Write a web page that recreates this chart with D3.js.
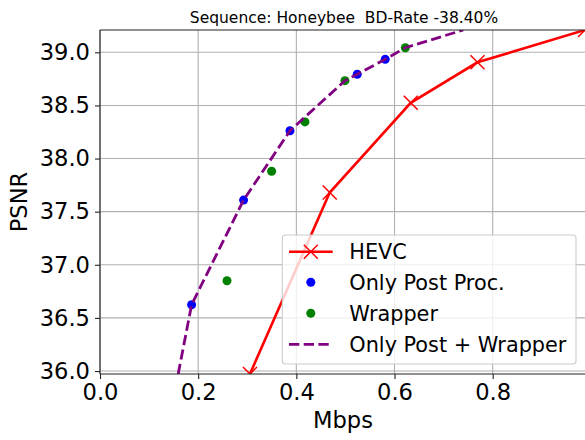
<!DOCTYPE html>
<html>
<head>
<meta charset="utf-8">
<script src="https://cdn.jsdelivr.net/npm/d3@7"></script>
<style>
  body { margin: 0; background: #fff; }
  text { font-family: "DejaVu Sans", sans-serif; fill: #000; }
</style>
</head>
<body>
<div id="chart"></div>
<script>
// values
var hevcRate = [0.3055, 0.468, 0.633, 0.769, 0.988];
var hevcPsnr = [35.972, 37.68, 38.525, 38.906, 39.21];

var postRate = [0.1866, 0.2925, 0.387, 0.524, 0.581];
var postPsnr = [36.624, 37.609, 38.262, 38.794, 38.934];

var wrapRate = [0.2587, 0.3496, 0.4175, 0.499, 0.622];
var wrapPsnr = [36.85, 37.88, 38.345, 38.733, 39.043];

var bothRate = [0.1593, 0.1866, 0.2925, 0.387, 0.499, 0.524, 0.581, 0.622, 0.74];
var bothPsnr = [35.972, 36.624, 37.609, 38.262, 38.733, 38.794, 38.934, 39.043, 39.21];

var xTicks = [0.0, 0.2, 0.4, 0.6, 0.8];
var yTicks = [36.0, 36.5, 37.0, 37.5, 38.0, 38.5, 39.0];
var legendNames = ["HEVC", "Only Post Proc.", "Wrapper", "Only Post + Wrapper"];

var width = 585, height = 440;
var pLeft = 100, pTop = 30, pRight = 586, pBottom = 374;

var svg = d3.select("#chart").append("svg")
    .attr("width", width)
    .attr("height", height);

var x = d3.scaleLinear().domain([0, 0.988]).range([pLeft, pRight - 1]);
var y = d3.scaleLinear().domain([35.972, 39.21]).range([pBottom, pTop]);

svg.append("defs").append("clipPath").attr("id", "plot")
    .append("rect")
    .attr("x", pLeft).attr("y", pTop)
    .attr("width", pRight - pLeft).attr("height", pBottom - pTop);

// grid
var grid = svg.append("g").attr("stroke", "#b0b0b0").attr("stroke-width", 1.1);
grid.selectAll(".gx").data(xTicks).enter().append("line")
    .attr("x1", function(d) { return x(d); }).attr("x2", function(d) { return x(d); })
    .attr("y1", pTop).attr("y2", pBottom);
grid.selectAll(".gy").data(yTicks).enter().append("line")
    .attr("x1", pLeft).attr("x2", pRight)
    .attr("y1", function(d) { return y(d); }).attr("y2", function(d) { return y(d); });

var plot = svg.append("g").attr("clip-path", "url(#plot)");

function pairs(xs, ys) {
    return xs.map(function(v, i) { return [v, ys[i]]; });
}
var line = d3.line()
    .x(function(d) { return x(d[0]); })
    .y(function(d) { return y(d[1]); });

function cross(g, cx, cy, s) {
    g.append("path")
        .attr("d", "M" + (cx - s) + "," + (cy - s) + "L" + (cx + s) + "," + (cy + s) +
                   "M" + (cx - s) + "," + (cy + s) + "L" + (cx + s) + "," + (cy - s))
        .attr("stroke", "#ff0000").attr("stroke-width", 1.5).attr("fill", "none");
}

// HEVC
var hevc = pairs(hevcRate, hevcPsnr);
plot.append("path").datum(hevc)
    .attr("d", line)
    .attr("fill", "none").attr("stroke", "#ff0000").attr("stroke-width", 2.6);
hevc.forEach(function(d) { cross(plot, x(d[0]), y(d[1]), 7); });

// scatter points
plot.selectAll(".post").data(pairs(postRate, postPsnr)).enter().append("circle")
    .attr("cx", function(d) { return x(d[0]); })
    .attr("cy", function(d) { return y(d[1]); })
    .attr("r", 4.5).attr("fill", "#0000ff");
plot.selectAll(".wrap").data(pairs(wrapRate, wrapPsnr)).enter().append("circle")
    .attr("cx", function(d) { return x(d[0]); })
    .attr("cy", function(d) { return y(d[1]); })
    .attr("r", 4.5).attr("fill", "#008000");

// combined dashed curve
plot.append("path").datum(pairs(bothRate, bothPsnr))
    .attr("d", line)
    .attr("fill", "none").attr("stroke", "#800080").attr("stroke-width", 2.8)
    .attr("stroke-dasharray", "10.3,4.4");

// spines
var spine = svg.append("g").attr("stroke", "#222").attr("stroke-width", 1.1);
spine.append("line").attr("x1", pLeft).attr("x2", pRight).attr("y1", pTop).attr("y2", pTop);
spine.append("line").attr("x1", pLeft).attr("x2", pRight).attr("y1", pBottom).attr("y2", pBottom);
spine.append("line").attr("x1", pLeft).attr("x2", pLeft).attr("y1", pTop).attr("y2", pBottom);

// axes
var xAxis = svg.append("g").attr("transform", "translate(0," + pBottom + ")")
    .call(d3.axisBottom(x).tickValues(xTicks).tickFormat(d3.format(".1f"))
        .tickSize(5).tickPadding(5));
var yAxis = svg.append("g").attr("transform", "translate(" + pLeft + ",0)")
    .call(d3.axisLeft(y).tickValues(yTicks).tickFormat(d3.format(".1f"))
        .tickSize(5).tickPadding(5));
[xAxis, yAxis].forEach(function(a) {
    a.select(".domain").remove();
    a.selectAll(".tick line").attr("stroke", "#222").attr("stroke-width", 1.1);
    a.selectAll(".tick text").attr("font-size", 22.6)
        .attr("font-family", "DejaVu Sans").attr("fill", "#000");
});

// labels
svg.append("text").attr("x", (pLeft + pRight) / 2).attr("y", 428)
    .attr("text-anchor", "middle").attr("font-size", 22.6).text("Mbps");
svg.append("text").attr("transform", "translate(27,202) rotate(-90)")
    .attr("text-anchor", "middle").attr("font-size", 22.6).text("PSNR");
svg.append("text").attr("x", 344).attr("y", 22.5)
    .attr("text-anchor", "middle").attr("font-size", 15.5)
    .attr("xml:space", "preserve")
    .text("Sequence: Honeybee  BD-Rate -38.40%");

// legend
var lg = svg.append("g");
lg.append("rect").attr("x", 282.3).attr("y", 235).attr("width", 293.7).attr("height", 129)
    .attr("rx", 3).attr("fill", "#fff").attr("fill-opacity", 0.8)
    .attr("stroke", "#cccccc").attr("stroke-width", 1.1);
var rowY = [251.7, 282.3, 313.3, 344.3];
lg.append("line").attr("x1", 289).attr("x2", 332.7).attr("y1", rowY[0]).attr("y2", rowY[0])
    .attr("stroke", "#ff0000").attr("stroke-width", 2.6);
cross(lg, 310.8, rowY[0], 7);
lg.append("circle").attr("cx", 310.8).attr("cy", rowY[1]).attr("r", 4.5).attr("fill", "#0000ff");
lg.append("circle").attr("cx", 310.8).attr("cy", rowY[2]).attr("r", 4.5).attr("fill", "#008000");
lg.append("line").attr("x1", 289).attr("x2", 332.7).attr("y1", rowY[3]).attr("y2", rowY[3])
    .attr("stroke", "#800080").attr("stroke-width", 2.8).attr("stroke-dasharray", "10.3,4.4");
lg.selectAll(".lt").data(legendNames).enter().append("text")
    .attr("x", 349.3)
    .attr("y", function(d, i) { return rowY[i]; })
    .attr("dy", "0.36em")
    .attr("font-size", 20.8)
    .text(function(d) { return d; });
</script>
</body>
</html>
